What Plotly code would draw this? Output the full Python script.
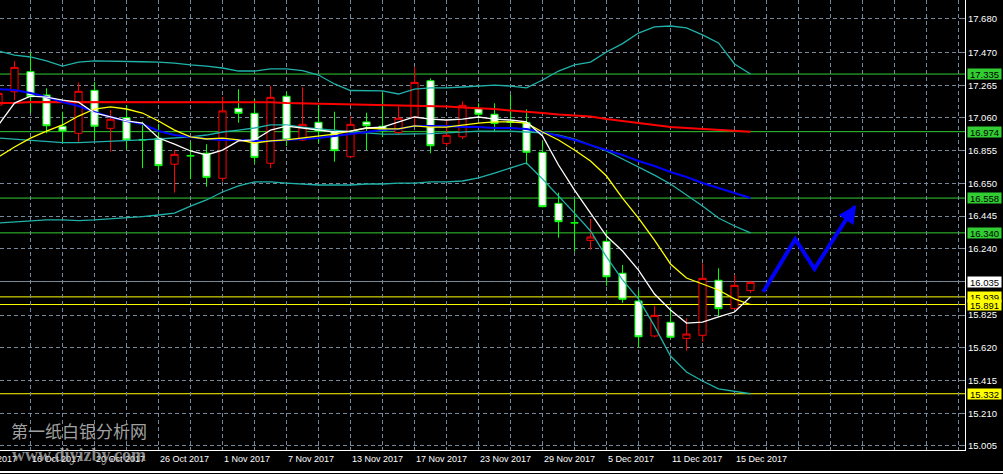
import datetime as dt
import plotly.graph_objects as go

# ---------------- data (daily XAG/USD) ----------------
dates = ["2017-10-12", "2017-10-13", "2017-10-16", "2017-10-17", "2017-10-18", "2017-10-19",
         "2017-10-20", "2017-10-23", "2017-10-24", "2017-10-25", "2017-10-26", "2017-10-27",
         "2017-10-30", "2017-10-31", "2017-11-01", "2017-11-02", "2017-11-03", "2017-11-06",
         "2017-11-07", "2017-11-08", "2017-11-09", "2017-11-10", "2017-11-13", "2017-11-14",
         "2017-11-15", "2017-11-16", "2017-11-17", "2017-11-20", "2017-11-21", "2017-11-22",
         "2017-11-23", "2017-11-24", "2017-11-27", "2017-11-28", "2017-11-29", "2017-11-30",
         "2017-12-01", "2017-12-04", "2017-12-05", "2017-12-06", "2017-12-07", "2017-12-08",
         "2017-12-11", "2017-12-12", "2017-12-13", "2017-12-14", "2017-12-15", "2017-12-18"]

open_ = [17.141, 17.224, 17.350, 17.204, 17.008, 16.964, 17.233, 16.995, 17.062, 16.925,
         16.933, 16.770, 16.825, 16.839, 16.682, 17.120, 17.089, 16.776, 17.196, 16.922,
         17.033, 16.974, 16.817, 17.035, 17.008, 16.968, 17.064, 17.293, 16.901, 16.942,
         17.118, 17.083, 17.036, 17.031, 16.845, 16.525, 16.405, 16.293, 16.287, 16.087,
         15.913, 15.694, 15.780, 15.679, 15.698, 16.043, 15.865, 15.978]
high = [17.216, 17.417, 17.469, 17.246, 17.099, 17.283, 17.287, 17.110, 17.141, 17.037,
        17.022, 16.859, 16.911, 16.895, 17.193, 17.240, 17.177, 17.260, 17.224, 17.252,
        17.141, 17.099, 17.068, 17.093, 17.218, 17.131, 17.377, 17.308, 17.047, 17.164,
        17.152, 17.152, 17.204, 17.114, 16.916, 16.592, 16.552, 16.427, 16.358, 16.139,
        15.982, 15.882, 15.874, 15.805, 16.149, 16.118, 16.076, 16.040]
low = [17.122, 17.172, 17.091, 16.964, 16.901, 16.905, 16.922, 16.849, 16.865, 16.745,
       16.734, 16.592, 16.676, 16.629, 16.661, 17.030, 16.776, 16.745, 16.884, 16.916,
       16.901, 16.786, 16.812, 16.859, 16.939, 16.953, 17.005, 16.839, 16.884, 16.928,
       17.055, 16.978, 16.995, 16.768, 16.500, 16.310, 16.222, 16.235, 16.008, 15.902,
       15.623, 15.686, 15.678, 15.602, 15.658, 15.815, 15.863, 15.965]
close = [17.214, 17.377, 17.193, 17.011, 16.978, 17.227, 17.008, 17.052, 16.922, 16.922,
         16.761, 16.832, 16.822, 16.688, 17.104, 17.089, 16.813, 17.189, 16.922, 17.020,
         16.980, 16.855, 17.020, 17.011, 16.980, 17.058, 17.283, 16.886, 16.951, 17.139,
         17.083, 17.026, 17.033, 16.845, 16.504, 16.410, 16.402, 16.314, 16.065, 15.924,
         15.689, 15.823, 15.686, 15.706, 16.055, 15.865, 16.011, 16.030]

ma_white = [17.016, 17.153, 17.197, 17.191, 17.172, 17.159, 17.091, 17.066, 17.041, 17.028,
            16.934, 16.896, 16.853, 16.828, 16.859, 16.916, 16.922, 16.984, 17.009, 16.997,
            16.984, 16.972, 16.978, 16.997, 17.003, 17.035, 17.066, 17.053, 17.047, 17.053,
            17.066, 17.053, 17.047, 17.035, 16.947, 16.765, 16.608, 16.464, 16.320, 16.226,
            16.107, 15.957, 15.857, 15.775, 15.781, 15.813, 15.844, 15.939]
ma_yellow = [16.815, 16.878, 16.934, 16.978, 17.016, 17.072, 17.116, 17.129, 17.116, 17.091,
             17.041, 16.984, 16.941, 16.928, 16.934, 16.922, 16.903, 16.916, 16.922, 16.934,
             16.947, 16.959, 16.978, 16.997, 16.991, 16.991, 17.010, 17.003, 17.003, 17.016,
             17.028, 17.035, 17.035, 17.028, 16.972, 16.922, 16.859, 16.790, 16.696, 16.558,
             16.433, 16.295, 16.145, 16.057, 16.020, 15.982, 15.926, 15.891]
ma_blue = [17.241, 17.235, 17.216, 17.191, 17.160, 17.135, 17.097, 17.066, 17.041, 17.022,
           16.978, 16.953, 16.941, 16.928, 16.922, 16.922, 16.916, 16.916, 16.922, 16.928,
           16.934, 16.947, 16.959, 16.972, 16.984, 16.991, 17.009, 17.009, 17.009, 17.003,
           17.003, 16.997, 16.997, 16.991, 16.972, 16.947, 16.922, 16.890, 16.859, 16.828,
           16.790, 16.759, 16.721, 16.690, 16.652, 16.621, 16.589, 16.558]
ma_red = [17.153, 17.153, 17.160, 17.160, 17.160, 17.160, 17.160, 17.160, 17.160, 17.160,
          17.160, 17.160, 17.160, 17.160, 17.158, 17.158, 17.158, 17.158, 17.153, 17.151,
          17.150, 17.147, 17.145, 17.144, 17.141, 17.141, 17.138, 17.135, 17.132, 17.125,
          17.122, 17.116, 17.107, 17.097, 17.091, 17.082, 17.075, 17.069, 17.053, 17.041,
          17.028, 17.013, 17.003, 16.997, 16.991, 16.984, 16.980, 16.974]
bb_upper = [17.479, 17.454, 17.442, 17.417, 17.385, 17.410, 17.417, 17.414, 17.412, 17.412,
            17.410, 17.404, 17.392, 17.385, 17.373, 17.354, 17.354, 17.367, 17.367, 17.357,
            17.329, 17.273, 17.232, 17.229, 17.229, 17.210, 17.241, 17.248, 17.248, 17.254,
            17.260, 17.266, 17.260, 17.248, 17.298, 17.354, 17.392, 17.410, 17.473, 17.526,
            17.592, 17.630, 17.636, 17.624, 17.580, 17.530, 17.398, 17.335]
bb_middle = [16.934, 16.928, 16.922, 16.912, 16.906, 16.906, 16.909, 16.916, 16.919, 16.922,
             16.928, 16.934, 16.941, 16.953, 16.972, 16.984, 16.997, 17.016, 17.016, 17.003,
             16.991, 16.984, 16.972, 16.966, 16.959, 16.959, 16.959, 16.962, 16.966, 16.972,
             16.978, 16.978, 16.978, 16.972, 16.966, 16.953, 16.928, 16.890, 16.853, 16.803,
             16.753, 16.702, 16.646, 16.577, 16.508, 16.433, 16.383, 16.340]
bb_lower = [16.402, 16.408, 16.414, 16.421, 16.421, 16.417, 16.421, 16.427, 16.433, 16.442,
            16.452, 16.464, 16.508, 16.546, 16.596, 16.634, 16.659, 16.659, 16.652, 16.646,
            16.640, 16.640, 16.640, 16.646, 16.646, 16.652, 16.652, 16.659, 16.659, 16.665,
            16.684, 16.715, 16.746, 16.778, 16.677, 16.571, 16.464, 16.352, 16.189, 16.045,
            15.926, 15.756, 15.568, 15.468, 15.412, 15.362, 15.349, 15.332]

level_prices = [17.335, 16.974, 16.558, 16.340, 16.035, 15.939, 15.891, 15.332]
level_colors = ["#32CD32", "#32CD32", "#32CD32", "#32CD32", "#778899", "#FFFF00", "#FFFF00", "#FFFF00"]
level_box = ["#32CD32", "#32CD32", "#32CD32", "#32CD32", "#FFFFFF", "#FFFF00", "#FFFF00", "#FFFF00"]

y_ticks = [17.680, 17.470, 17.265, 17.060, 16.855, 16.650, 16.445, 16.240, 16.035,
           15.825, 15.620, 15.415, 15.210, 15.005]
label_dates = ["2017-10-16", "2017-10-20", "2017-10-26", "2017-11-01", "2017-11-07",
               "2017-11-13", "2017-11-17", "2017-11-23", "2017-11-29", "2017-12-05",
               "2017-12-11", "2017-12-15"]

# hand-drawn forecast arrow (bar index, price)
arrow_x = [47.8, 49.8, 51.0, 53.5]
arrow_y = [15.971, 16.300, 16.115, 16.505]

# ---------------- figure ----------------
x = list(range(len(dates)))
XMIN, XMAX = 0.094, 60.406
YMIN, YMAX = 14.9795, 17.799
LBL_FONT = "Liberation Sans"

fig = go.Figure()

fig.add_trace(go.Candlestick(
    x=x, open=open_, high=high, low=low, close=close,
    increasing=dict(line=dict(color="#FF0000", width=1), fillcolor="#000000"),
    decreasing=dict(line=dict(color="#00FF00", width=1), fillcolor="#FFFFFF"),
    whiskerwidth=0, hoverinfo="skip", showlegend=False))

for vals, col, w in [(bb_upper, "#20B2AA", 1.3), (bb_middle, "#20B2AA", 1.3), (bb_lower, "#20B2AA", 1.3),
                     (ma_red, "#FF0000", 2), (ma_blue, "#0000FF", 2),
                     (ma_yellow, "#FFFF00", 1.3), (ma_white, "#FFFFFF", 1.3)]:
    fig.add_trace(go.Scatter(x=x, y=vals, mode="lines", line=dict(color=col, width=w),
                             hoverinfo="skip", showlegend=False))

fig.add_trace(go.Scatter(x=arrow_x, y=arrow_y, mode="lines",
                         line=dict(color="#0000FF", width=4), hoverinfo="skip", showlegend=False))

shapes = []
for p, c in zip(level_prices, level_colors):
    shapes.append(dict(type="line", xref="paper", x0=0, x1=1, yref="y", y0=p, y1=p,
                       line=dict(color=c, width=1), layer="below"))
shapes.append(dict(type="line", xref="paper", x0=0, x1=1.05, yref="paper", y0=-0.049, y1=-0.049,
                   line=dict(color="#FFFFFF", width=2)))

annotations = []
for p, bc in zip(level_prices, level_box):
    annotations.append(dict(xref="paper", x=1.0025, xanchor="left", yref="y", y=p, yanchor="middle",
                            text=f"{p:.3f}", showarrow=False, bgcolor=bc, borderpad=0,
                            width=33, height=10,
                            font=dict(family=LBL_FONT, size=9.5, color="#000000")))

def fmt(d):
    dd = dt.date.fromisoformat(d)
    return f"{dd.day} {dd.strftime('%b')} {dd.year}"

for d in label_dates:
    annotations.append(dict(xref="x", x=dates.index(d), xanchor="left", xshift=-1,
                            yref="paper", y=-0.02, yanchor="middle", text=fmt(d),
                            showarrow=False,
                            font=dict(family=LBL_FONT, size=9, color="#FFFFFF")))
# partially visible first label (10 Oct 2017, two bars before the first bar shown)
annotations.append(dict(xref="paper", x=(-2 - XMIN) / (XMAX - XMIN), xanchor="left",
                        yref="paper", y=-0.02, yanchor="middle", text="10 Oct 2017",
                        showarrow=False, font=dict(family=LBL_FONT, size=9, color="#FFFFFF")))

# arrow head
annotations.append(dict(xref="x", yref="y", x=arrow_x[-1] + 0.1, y=arrow_y[-1] + 0.01,
                        axref="x", ayref="y", ax=arrow_x[-2] + 1.2, ay=arrow_y[-2] + 0.19,
                        text="", showarrow=True, arrowhead=2, arrowsize=1.2, arrowwidth=3,
                        arrowcolor="#0000FF"))

# watermarks
annotations.append(dict(xref="paper", yref="paper", x=0.009, y=0.043, xanchor="left", yanchor="middle",
                        text="第一纸白银分析网", showarrow=False,
                        font=dict(family="Noto Sans CJK SC", size=17, color="#A0A0A0")))
annotations.append(dict(xref="paper", yref="paper", x=0.01, y=-0.01, xanchor="left", yanchor="middle",
                        text="<b>www.diyizby.com</b>", showarrow=False,
                        font=dict(family="Liberation Serif", size=18, color="rgba(185,185,185,0.75)")))

# the current-price box (16.035) sits on top of that tick, so that tick shows no separate text
tick_text = ["" if v in level_prices else f"{v:.3f}" for v in y_ticks]

fig.update_layout(
    width=1003, height=474, template="none",
    paper_bgcolor="#000000", plot_bgcolor="#000000",
    margin=dict(l=0, r=38, t=0, b=24),
    showlegend=False, shapes=shapes, annotations=annotations,
    boxgap=0.36,
    xaxis=dict(range=[XMIN, XMAX], tickvals=list(range(0, 62, 2)), showticklabels=False,
               showgrid=True, gridcolor="#778899", gridwidth=1, griddash="4px,3px",
               zeroline=False, showline=True, linecolor="#FFFFFF", linewidth=1,
               ticks="inside", ticklen=3, tickcolor="#778899",
               rangeslider=dict(visible=False), automargin=False, fixedrange=True),
    yaxis=dict(range=[YMIN, YMAX], side="right", tickvals=y_ticks, ticktext=tick_text,
               showgrid=True, gridcolor="#778899", gridwidth=1, griddash="4px,3px",
               zeroline=False, showline=True, linecolor="#FFFFFF", linewidth=1,
               ticks="inside", ticklen=4, tickcolor="#778899",
               tickfont=dict(family=LBL_FONT, size=9.5, color="#FFFFFF"),
               automargin=False, fixedrange=True),
)

fig.write_html("out.html", config={"displayModeBar": False},
               post_script="document.body.style.margin='0';document.body.style.background='#000';"
                           "document.body.style.overflow='hidden';")
